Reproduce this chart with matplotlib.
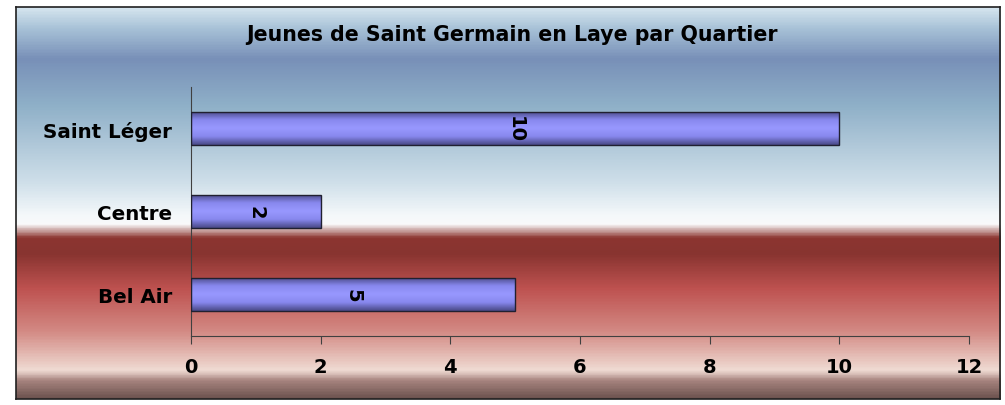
import numpy as np
import matplotlib.pyplot as plt
from matplotlib.colors import LinearSegmentedColormap

# data
quartiers = ["Bel Air", "Centre", "Saint Léger"]
jeunes = [5, 2, 10]
xticks = [0, 2, 4, 6, 8, 10, 12]
titre = "Jeunes de Saint Germain en Laye par Quartier"

plt.rcParams['font.family'] = ['DejaVu Sans']

fig = plt.figure(figsize=(10.05, 4.06), dpi=100)
fig.patch.set_facecolor('white')

# background frame with vertical gradient (blue -> white -> red -> pink)
bg = fig.add_axes([16/1005, 1-400/406, 984/1005, 392/406])
stops = [(0.00, '#d4e4ee'), (0.05, '#a9c3d8'), (0.13, '#7890b8'), (0.25, '#8fb0c8'),
         (0.45, '#d0e0ea'), (0.53, '#f4f8fa'), (0.555, '#fafafa'),
         (0.59, '#8c3530'), (0.63, '#883430'), (0.72, '#be5250'),
         (0.83, '#d38a84'), (0.93, '#f0dcd4'), (0.955, '#a88580'), (1.0, '#6e5450')]
cmap_bg = LinearSegmentedColormap.from_list('bg', stops)
bg.imshow(np.linspace(0, 1, 400).reshape(-1, 1), cmap=cmap_bg, aspect='auto',
          extent=[0, 1, 0, 1], origin='upper')
bg.set_xticks([])
bg.set_yticks([])
for s in bg.spines.values():
    s.set_color('#202020')
    s.set_linewidth(1.2)

ax = fig.add_axes([191/1005, 1-337/406, 778/1005, 249/406])
ax.patch.set_alpha(0)

bar_cmap = LinearSegmentedColormap.from_list('bar', ['#4a4a88', '#8888ee', '#9898ff', '#8888ee', '#4a4a88'])
bars = ax.barh(quartiers, jeunes, height=0.4, color='none', edgecolor='#202030', linewidth=1, zorder=3)
for b, v in zip(bars, jeunes):
    x0, y0, w, h = b.get_x(), b.get_y(), b.get_width(), b.get_height()
    im = ax.imshow(np.linspace(0, 1, 50).reshape(-1, 1), cmap=bar_cmap, aspect='auto',
                   extent=[x0, x0 + w, y0, y0 + h], zorder=2)
    im.set_clip_path(b)
    ax.text(x0 + w / 2, y0 + h / 2, str(v), rotation=270, ha='center', va='center',
            fontsize=14, fontweight='bold', zorder=4)

ax.set_xlim(0, 12)
ax.set_ylim(-0.5, 2.5)
ax.set_xticks(xticks)
ax.set_xticklabels([str(t) for t in xticks], fontsize=14, fontweight='bold')
ax.tick_params(axis='x', direction='out', length=6, color='#404040', pad=9)
ax.tick_params(axis='y', length=0, pad=13.5, labelsize=14.3)
for lab in ax.get_yticklabels():
    lab.set_fontweight('bold')
ax.spines['top'].set_visible(False)
ax.spines['right'].set_visible(False)
ax.spines['left'].set_color('#404040')
ax.spines['bottom'].set_color('#404040')

fig.text(512/1005, 1-35/406, titre, ha='center', va='center', fontsize=14.8, fontweight='bold')

fig.savefig('out.png', dpi=100)
